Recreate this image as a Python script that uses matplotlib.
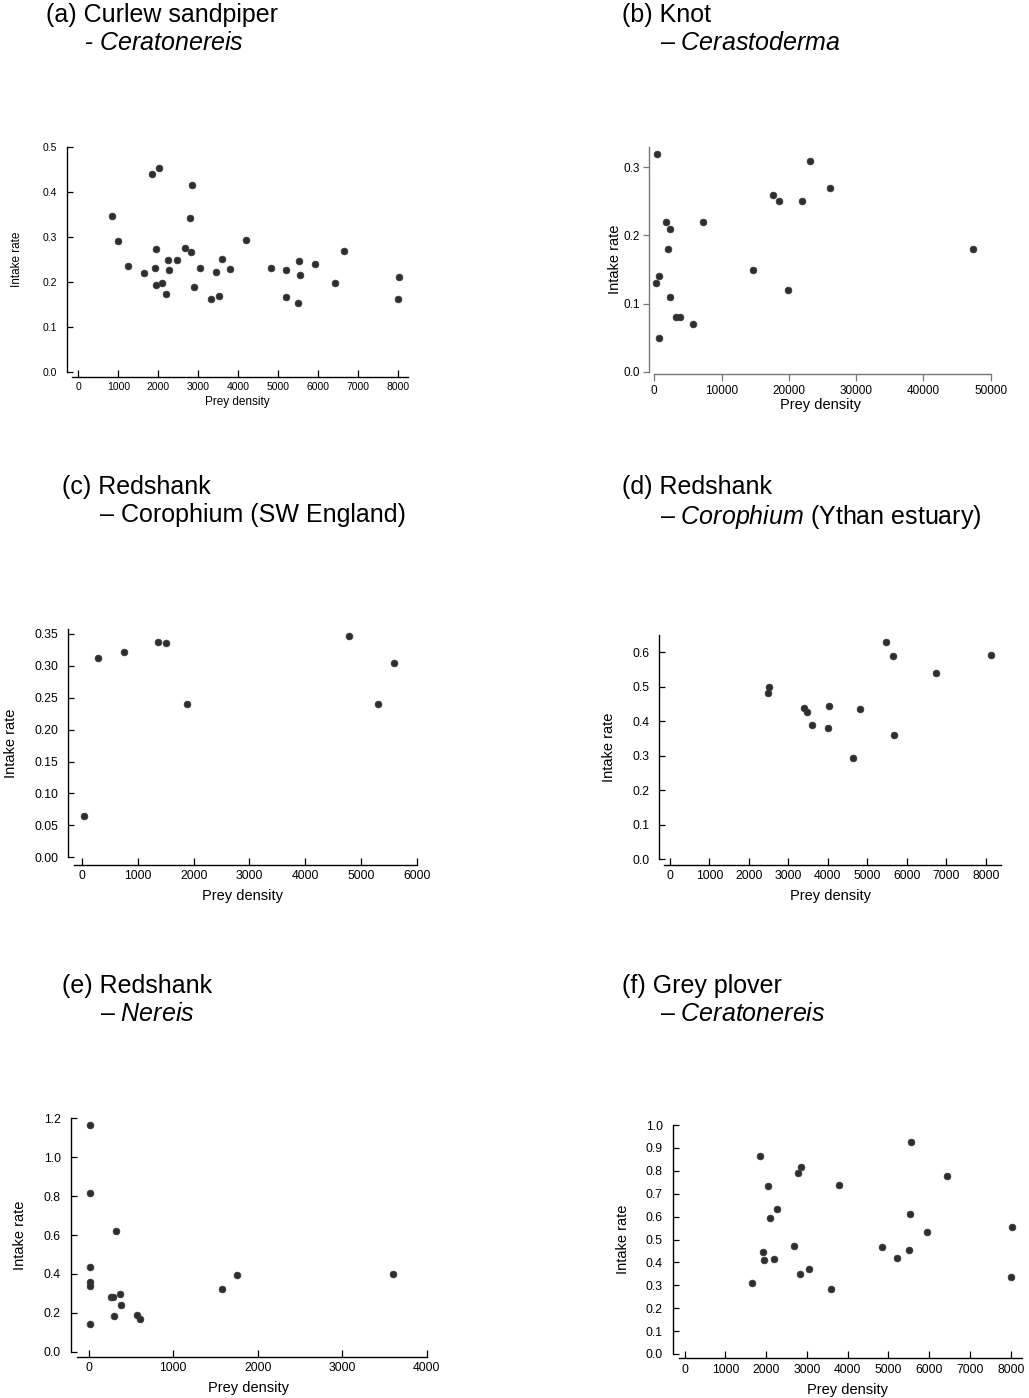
import numpy as np
import matplotlib
matplotlib.use("Agg")
import matplotlib.pyplot as plt

plt.rcParams['font.family'] = ['Liberation Sans', 'DejaVu Sans']
plt.rcParams['mathtext.fontset'] = 'custom'
plt.rcParams['mathtext.rm'] = 'Liberation Sans'
plt.rcParams['mathtext.it'] = 'Liberation Sans:italic'

# %% data
a_x = [850, 983, 1242, 1642, 1842, 2025, 1933, 1917, 1933, 2100, 2192, 2250, 2267,
       2458, 2675, 2808, 2783, 2850, 2892, 3042, 3325, 3450, 3517, 3583, 3783, 4192,
       4817, 5200, 5200, 5517, 5542, 5492, 5925, 6425, 6642, 8017, 8000]
a_y = [0.346, 0.292, 0.236, 0.219, 0.440, 0.454, 0.274, 0.232, 0.193, 0.198, 0.174,
       0.248, 0.227, 0.248, 0.275, 0.267, 0.343, 0.416, 0.189, 0.232, 0.161, 0.222,
       0.169, 0.251, 0.229, 0.293, 0.231, 0.227, 0.166, 0.246, 0.215, 0.153, 0.240,
       0.198, 0.269, 0.211, 0.161]

b_x = [400, 300, 700, 700, 1700, 2300, 2100, 2300, 3200, 3800, 5700, 7300, 14700,
       17600, 18500, 19900, 21900, 23100, 26100, 47400]
b_y = [0.32, 0.13, 0.14, 0.05, 0.22, 0.21, 0.18, 0.11, 0.08, 0.08, 0.07, 0.22, 0.15,
       0.26, 0.25, 0.12, 0.25, 0.31, 0.27, 0.18]

c_x = [30, 275, 742, 1358, 1507, 1872, 4791, 5311, 5586]
c_y = [0.065, 0.312, 0.321, 0.337, 0.336, 0.240, 0.347, 0.240, 0.305]

d_x = [2475, 2500, 3404, 3471, 3606, 4037, 4012, 4637, 4814, 5465, 5650, 5667, 6731, 8142]
d_y = [0.483, 0.499, 0.439, 0.426, 0.390, 0.443, 0.381, 0.293, 0.437, 0.629, 0.589,
       0.361, 0.539, 0.593]

e_x = [12, 12, 12, 12, 12, 12, 323, 260, 284, 375, 383, 300, 568, 607, 1582, 1751, 3606]
e_y = [1.164, 0.817, 0.434, 0.358, 0.336, 0.144, 0.622, 0.283, 0.279, 0.296, 0.238,
       0.182, 0.190, 0.166, 0.320, 0.392, 0.398]

f_x = [1652, 1857, 1922, 1939, 2037, 2102, 2192, 2258, 2691, 2789, 2863, 2822, 3043,
       3599, 3796, 4843, 5211, 5497, 5530, 5554, 5947, 6438, 8008, 8033]
f_y = [0.311, 0.866, 0.444, 0.409, 0.735, 0.592, 0.415, 0.633, 0.472, 0.789, 0.817,
       0.348, 0.373, 0.285, 0.739, 0.469, 0.421, 0.454, 0.613, 0.924, 0.531, 0.779,
       0.335, 0.556]

W, H = 1029, 1398
fig = plt.figure(figsize=(W / 100, H / 100), dpi=100)


def px_axes(left, right, y0, ytop):
    """axes from pixel coords (top-origin)"""
    return fig.add_axes([left / W, 1 - y0 / H, (right - left) / W, (y0 - ytop) / H])


def panel(x, y, rect, xlim, ylim, xticks, yticks, xbounds, yfmt, offset, ylab_x,
          ticks_in=True, spcol='black', fs_tick=8.5, fs_lab=11, xlabpad=5):
    ax = px_axes(*rect)
    ax.plot(x, y, 'o', color='#2e2e2e', ms=4.8, mec='#3a3a3a', mew=0.6)
    ax.set_xlim(*xlim)
    ax.set_ylim(*ylim)
    ax.set_xticks(xticks)
    ax.set_yticks(yticks)
    ax.set_yticklabels([yfmt.format(v) for v in yticks])
    for s in ('top', 'right'):
        ax.spines[s].set_visible(False)
    ax.spines['left'].set_bounds(ylim[0], ylim[1])
    ax.spines['bottom'].set_bounds(*xbounds)
    ax.spines['bottom'].set_position(('outward', offset))
    for s in ('left', 'bottom'):
        ax.spines[s].set_color(spcol)
        ax.spines[s].set_linewidth(1.0)
    d = 'in' if ticks_in else 'out'
    ax.tick_params(axis='x', direction=d, length=5, width=0.9, color=spcol,
                   labelsize=fs_tick, pad=4 if ticks_in else 3)
    ax.tick_params(axis='y', direction=d, length=4, width=0.9, color=spcol,
                   labelsize=fs_tick, pad=7 if ticks_in else 3)
    ax.set_xlabel('Prey density', fontsize=fs_lab, labelpad=xlabpad)
    ax.set_ylabel('Intake rate', fontsize=fs_lab)
    # ylab_x is the pixel column of the label's right edge
    left, right = rect[0], rect[1]
    ax.yaxis.set_label_coords((ylab_x - left) / (right - left), 0.5)
    ax.patch.set_visible(False)
    return ax


# (a)
panel(a_x, a_y, (67, 408, 371.7, 147.3), (-283, 8243), (0, 0.5),
      range(0, 8001, 1000), np.arange(0, 0.51, 0.1), (-165, 8243), '{:.1f}', 3.5, 23,
      fs_tick=7.5, fs_lab=8.5, xlabpad=3)
# (b)
panel(b_x, b_y, (649.3, 990.7, 371.7, 147.3), (-743, 50000), (0, 0.3295),
      range(0, 50001, 10000), np.arange(0, 0.31, 0.1), (0, 50000), '{:.1f}', 1.6, 622,
      ticks_in=False, spcol='#777777', fs_tick=8.5, fs_lab=10.5, xlabpad=1)
# (c)
panel(c_x, c_y, (68.3, 416.7, 857.3, 629.3), (-251, 6000), (0, 0.357),
      range(0, 6001, 1000), np.arange(0, 0.351, 0.05), (-149, 6000), '{:.2f}', 5.4, 18,
      fs_tick=8.8, fs_lab=10.5)
# (d)
panel(d_x, d_y, (659.3, 1001, 859, 635), (-271, 8387), (0, 0.6506),
      range(0, 8001, 1000), np.arange(0, 0.61, 0.1), (-152, 8387), '{:.1f}', 4, 616,
      fs_tick=8.8, fs_lab=10.5)
# (e)
panel(e_x, e_y, (70.7, 426.7, 1351.7, 1118.3), (-213, 4000), (0, 1.2),
      range(0, 4001, 1000), np.arange(0, 1.21, 0.2), (-135, 4000), '{:.1f}', 3.6, 27,
      fs_tick=8.8, fs_lab=10.5)
# (f)
panel(f_x, f_y, (672.7, 1021.7, 1354, 1125), (-294, 8270), (0, 1.0),
      range(0, 8001, 1000), np.arange(0, 1.01, 0.1), (-147, 8270), '{:.1f}', 3, 630,
      fs_tick=8.8, fs_lab=10.5)

# panel titles: (x, y-top, first line, second line)
titles = [
    (46, 3, '(a) Curlew sandpiper', r'- $\mathit{Ceratonereis}$'),
    (622, 3, '(b) Knot', r'– $\mathit{Cerastoderma}$'),
    (62, 475, '(c) Redshank', '– Corophium (SW England)'),
    (622, 475, '(d) Redshank', r'– $\mathit{Corophium}$ (Ythan estuary)'),
    (62, 974, '(e) Redshank', r'– $\mathit{Nereis}$'),
    (622, 974, '(f) Grey plover', r'– $\mathit{Ceratonereis}$'),
]
for x1, y1, t1, t2 in titles:
    fig.text(x1 / W, 1 - y1 / H, t1, fontsize=18, va='top', ha='left')
    fig.text((x1 + 38) / W, 1 - (y1 + 28) / H, t2, fontsize=18, va='top', ha='left')

fig.savefig('out.png', dpi=100)
